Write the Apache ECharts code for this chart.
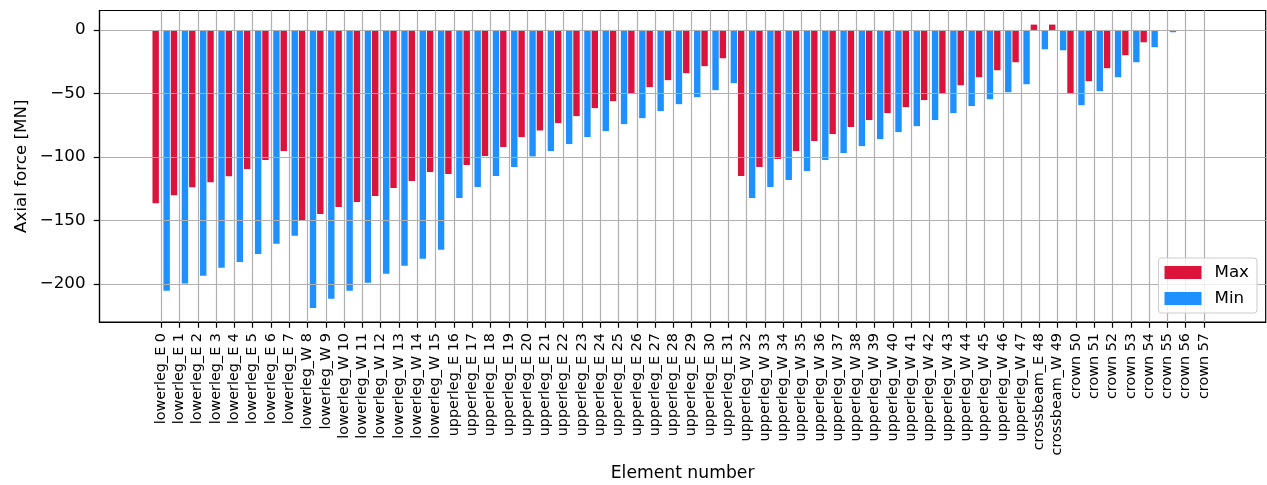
<!DOCTYPE html>
<html>
<head>
<meta charset="utf-8">
<script src="https://cdn.jsdelivr.net/npm/echarts@6/dist/echarts.min.js"></script>
<style>
html,body{margin:0;padding:0;background:#fff;}
#chart{width:1267px;height:485px;}
</style>
</head>
<body>
<div id="chart"></div>
<script>
const categories = [
  'lowerleg_E 0','lowerleg_E 1','lowerleg_E 2','lowerleg_E 3','lowerleg_E 4','lowerleg_E 5','lowerleg_E 6','lowerleg_E 7',
  'lowerleg_W 8','lowerleg_W 9','lowerleg_W 10','lowerleg_W 11','lowerleg_W 12','lowerleg_W 13','lowerleg_W 14','lowerleg_W 15',
  'upperleg_E 16','upperleg_E 17','upperleg_E 18','upperleg_E 19','upperleg_E 20','upperleg_E 21','upperleg_E 22','upperleg_E 23',
  'upperleg_E 24','upperleg_E 25','upperleg_E 26','upperleg_E 27','upperleg_E 28','upperleg_E 29','upperleg_E 30','upperleg_E 31',
  'upperleg_W 32','upperleg_W 33','upperleg_W 34','upperleg_W 35','upperleg_W 36','upperleg_W 37','upperleg_W 38','upperleg_W 39',
  'upperleg_W 40','upperleg_W 41','upperleg_W 42','upperleg_W 43','upperleg_W 44','upperleg_W 45','upperleg_W 46','upperleg_W 47',
  'crossbeam_E 48','crossbeam_W 49',
  'crown 50','crown 51','crown 52','crown 53','crown 54','crown 55','crown 56','crown 57'
];
const maxValues = [
  -136.4,-130.1,-123.8,-119.9,-115.2,-109.4,-102.4,-95.3,
  -149.5,-144.8,-139.3,-135.3,-130.6,-124.3,-118.8,-111.8,
  -113.4,-106.3,-99.2,-92.1,-84.3,-79.1,-73.3,-67.8,
  -61.5,-56.0,-49.7,-45.0,-39.5,-34.0,-28.5,-22.3,
  -114.9,-107.9,-101.6,-95.3,-87.4,-81.9,-76.4,-70.9,
  -65.4,-60.7,-55.2,-49.7,-43.5,-37.2,-31.7,-25.4,
  4.2,4.2,
  -49.7,-40.3,-30.1,-19.9,-9.7,0,0,0
];
const minValues = [
  -205.2,-199.5,-193.5,-187.2,-182.5,-176.2,-168.3,-162.0,
  -218.7,-211.5,-205.2,-199.0,-191.9,-185.6,-180.1,-173.0,
  -132.2,-123.6,-114.9,-107.9,-99.5,-95.3,-89.8,-84.3,
  -79.6,-74.1,-69.4,-63.9,-58.4,-52.9,-47.4,-41.9,
  -132.2,-123.6,-118.1,-111.0,-102.4,-96.9,-91.4,-85.9,
  -80.4,-75.7,-70.9,-65.4,-59.9,-54.5,-49.0,-42.7,
  -15.2,-16.0,
  -59.2,-48.2,-37.2,-25.4,-13.6,-1.8,-0.8,0
];
const yTicks = [-200, -150, -100, -50, 0];
const seriesNames = ['Max', 'Min'];
const seriesColors = ['#DC143C', '#1E90FF'];

const FONT = 'DejaVu Sans';
const xTickValues = categories.map((c, i) => i);

const chart = echarts.init(document.getElementById('chart'), null, {renderer: 'canvas'});
const option = {
  animation: false,
  backgroundColor: '#ffffff',
  textStyle: {fontFamily: FONT},
  grid: {
    left: 99.5, right: 1.3, top: 10.5, bottom: 163,
    show: true, borderColor: '#000', borderWidth: 1.2, backgroundColor: 'transparent',
    containLabel: false, outerBoundsMode: 'none'
  },
  legend: {
    orient: 'vertical',
    right: 10, bottom: 172,
    data: seriesNames,
    icon: 'rect',
    itemWidth: 37, itemHeight: 13, itemGap: 9,
    padding: [6, 8, 6, 6],
    backgroundColor: 'rgba(255,255,255,0.8)',
    borderColor: '#cccccc', borderWidth: 1, borderRadius: 3,
    textStyle: {fontFamily: FONT, fontSize: 16.7, color: '#000', padding: [0, 0, 0, 8]}
  },
  xAxis: {
    type: 'value',
    min: -3.37, max: 60.37,
    z: 3,
    name: 'Element number',
    nameLocation: 'middle',
    nameGap: 143,
    nameMoveOverlap: false,
    nameTextStyle: {fontFamily: FONT, fontSize: 17.2, color: '#000'},
    axisLine: {show: true, onZero: false, lineStyle: {color: '#000', width: 1.2}},
    axisTick: {show: true, customValues: xTickValues, length: 5.8, lineStyle: {color: '#000', width: 1.2}},
    axisLabel: {
      customValues: xTickValues,
      rotate: 90, margin: 11,
      fontFamily: FONT, fontSize: 14.4, color: '#000',
      formatter: v => categories[Math.round(v)] || ''
    },
    splitLine: {show: true, lineStyle: {color: '#b0b0b0', width: 1.2}}
  },
  yAxis: {
    type: 'value',
    min: -229.8, max: 15.3,
    z: 3,
    name: 'Axial force [MN]',
    nameLocation: 'middle',
    nameGap: 69,
    nameRotate: 90,
    nameMoveOverlap: false,
    nameTextStyle: {fontFamily: FONT, fontSize: 16.7, color: '#000'},
    axisLine: {show: true, onZero: false, lineStyle: {color: '#000', width: 1.2}},
    axisTick: {show: true, customValues: yTicks, length: 5.8, lineStyle: {color: '#000', width: 1.2}},
    axisLabel: {
      customValues: yTicks,
      margin: 14,
      padding: [6, 0, 0, 0],
      fontFamily: FONT, fontSize: 16.7, color: '#000',
      formatter: v => String(v).replace('-', '\u2212')
    },
    splitLine: {show: true, lineStyle: {color: '#b0b0b0', width: 1.2}}
  },
  series: [
    {
      name: seriesNames[0], type: 'bar',
      data: maxValues.map((v, i) => [i, v]),
      barWidth: '35%', barGap: '71.43%',
      itemStyle: {color: seriesColors[0]},
      z: 2
    },
    {
      name: seriesNames[1], type: 'bar',
      data: minValues.map((v, i) => [i, v]),
      barWidth: '35%', barGap: '71.43%',
      itemStyle: {color: seriesColors[1]},
      z: 2
    }
  ]
};
chart.setOption(option);
</script>
</body>
</html>
